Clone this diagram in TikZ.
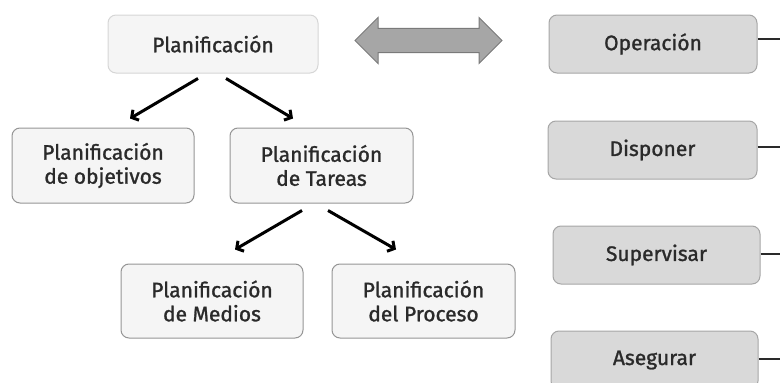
\documentclass[tikz,border=0pt]{standalone}
\usepackage{fontspec}
\setmainfont{Fira Sans}
\newfontfamily\boxfont{Fira Sans}[FakeBold=1.2]
\usetikzlibrary{shapes.arrows,arrows.meta}
\definecolor{txt}{HTML}{2A2A2A}
\definecolor{lightfill}{HTML}{F5F5F5}
\definecolor{lightborder}{HTML}{D6D6D6}
\definecolor{midborder}{HTML}{959595}
\definecolor{darkfill}{HTML}{D9D9D9}
\definecolor{darkborder}{HTML}{A6A6A6}
\definecolor{arrfill}{HTML}{A6A6A6}
\definecolor{arrborder}{HTML}{7A7A7A}
\tikzset{
  box/.style={rectangle, rounded corners=8pt, line width=1pt, text=txt,
    font=\boxfont\fontsize{21}{24}\selectfont, align=center, inner sep=0pt},
  topbox/.style={box, draw=lightborder, fill=lightfill},
  subbox/.style={box, draw=midborder, fill=lightfill},
  actbox/.style={box, draw=darkborder, fill=darkfill},
  arr/.style={line width=3pt, -{Straight Barb[length=5pt,width=12pt]}},
  link/.style={line width=1.3pt, draw=txt},
}
\begin{document}
\begin{tikzpicture}[x=1pt,y=-1pt]
\useasboundingbox (0,0) rectangle (780,383);
% left tree
\node[topbox, minimum width=210pt, minimum height=58pt] (plan) at (213,44) {Planificación};
\node[subbox, minimum width=182pt, minimum height=75pt] (obj) at (103,165.5) {Planificación\\de objetivos};
\node[subbox, minimum width=183pt, minimum height=75pt] (tar) at (321.5,165.5) {Planificación\\de Tareas};
\node[subbox, minimum width=182pt, minimum height=74pt] (med) at (212,301) {Planificación\\de Medios};
\node[subbox, minimum width=183pt, minimum height=74pt] (pro) at (423.5,301) {Planificación\\del Proceso};
% double arrow
\node[double arrow, draw=arrborder, fill=arrfill, line width=1pt,
  minimum height=147pt, double arrow head extend=10.8pt,
  inner xsep=0pt, inner ysep=11.7pt] (dbl) at (428.5,40.5) {};
% right column
\node[actbox, minimum width=208pt, minimum height=58pt] (op) at (653,44) {Operación};
\node[actbox, minimum width=209pt, minimum height=58pt] (dis) at (652.5,150) {Disponer};
\node[actbox, minimum width=207pt, minimum height=58pt] (sup) at (656.5,255) {Supervisar};
\node[actbox, minimum width=207pt, minimum height=58pt] (ase) at (654.5,360) {Asegurar};
\coordinate (opend) at (780,39);
\coordinate (disend) at (780,147);
\coordinate (supend) at (780,254);
\coordinate (aseend) at (780,359);
\draw[link] (op.east |- opend) -- (opend);
\draw[link] (dis.east |- disend) -- (disend);
\draw[link] (sup.east |- supend) -- (supend);
\draw[link] (ase.east |- aseend) -- (aseend);
% arrows
\draw[arr] ([xshift=-15pt,yshift=-5pt]plan.south) -- ([xshift=27pt,yshift=9pt]obj.north);
\draw[arr] ([xshift=13pt,yshift=-5pt]plan.south) -- ([xshift=-28.5pt,yshift=9pt]tar.north);
\draw[arr] ([xshift=-19.5pt,yshift=-7pt]tar.south) -- ([xshift=23pt,yshift=14pt]med.north);
\draw[arr] ([xshift=6.5pt,yshift=-7pt]tar.south) -- ([xshift=-27.5pt,yshift=14pt]pro.north);
\end{tikzpicture}
\end{document}
